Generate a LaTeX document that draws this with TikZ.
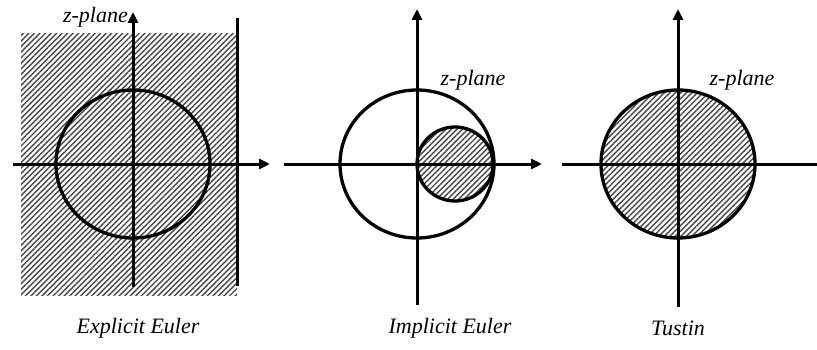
\documentclass[tikz,border=0pt]{standalone}
\usepackage{fontspec}
\setmainfont{Liberation Serif}
\usetikzlibrary{arrows.meta,patterns.meta}

\tikzset{
  axis/.style={line width=3pt,-{Triangle[length=11pt,width=10pt]}},
  bare/.style={line width=3pt},
  ring/.style={line width=3.3pt},
  hatch/.style={pattern={Lines[angle=45,distance=3.9pt,line width=1.4pt]},pattern color=black!72},
  lbl/.style={font=\fontsize{22}{26}\selectfont\itshape,inner sep=0pt}
}

\begin{document}
\begin{tikzpicture}[x=1pt,y=1pt,line cap=butt]
\useasboundingbox (0,0) rectangle (817,349);

% explicit Euler
\begin{scope}[shift={(133,185)}]
\fill[hatch] (-112,-131) rectangle (104,130);
\draw[axis] (-120,0) -- (137,0);
\draw[axis] (0,-123) -- (0,152);
\draw[ring] (0,0) ellipse [x radius=77,y radius=74];
\draw[bare] (104,-122) -- (104,146);
\node[lbl,anchor=east] (zp1) at (-5,147) {z-plane};
\node[lbl] (cap1) at (5,-164) {Explicit Euler};
\end{scope}

% implicit Euler
\begin{scope}[shift={(417,185)}]
\fill[hatch] (38,0) ellipse [x radius=38,y radius=37];
\draw[axis] (-133,0) -- (125,0);
\draw[axis] (0,-141) -- (0,155);
\draw[ring] (0,0) ellipse [x radius=77,y radius=74];
\draw[ring] (38,0) ellipse [x radius=38,y radius=37];
\node[lbl] (zp2) at (56,84) {z-plane};
\node[lbl] (cap2) at (33,-164) {Implicit Euler};
\end{scope}

% Tustin
\begin{scope}[shift={(678,185)}]
\fill[hatch] (0,0) ellipse [x radius=77,y radius=74];
\draw[bare] (-116,0) -- (139,0);
\draw[axis] (0,-143) -- (0,155);
\draw[ring] (0,0) ellipse [x radius=77,y radius=74];
\node[lbl] (zp3) at (64,84) {z-plane};
\node[lbl] (cap3) at (0,-164) {Tustin};
\end{scope}
\end{tikzpicture}
\end{document}
